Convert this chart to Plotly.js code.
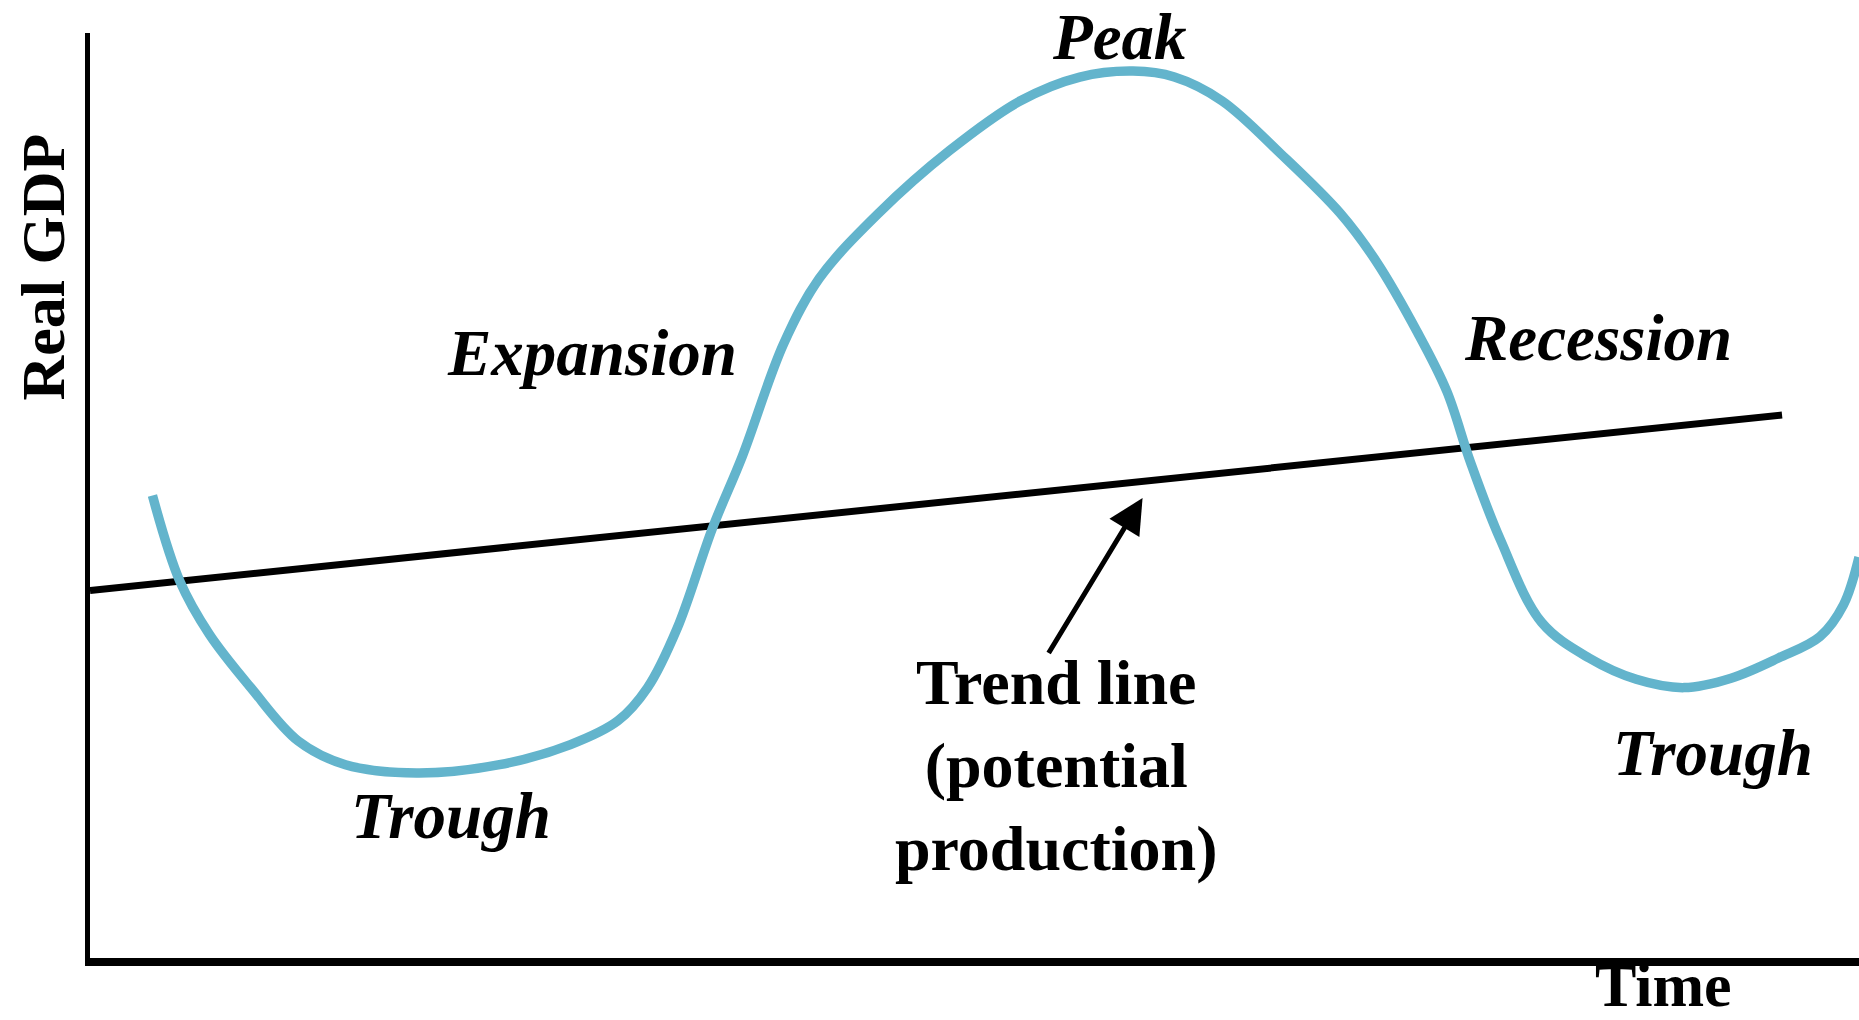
<!DOCTYPE html>
<html>
<head>
<meta charset="utf-8">
<script src="https://cdn.plot.ly/plotly-3.0.1.min.js"></script>
<style>html,body{margin:0;padding:0;background:#fff;}#chart{width:1859px;height:1020px;}</style>
</head>
<body>
<div id="chart"></div>
<script>
// Business cycle curve (time index 0-100, real GDP index 0-100)
const cycleTime = [3.53, 5.07, 6.75, 9.09, 11.77, 14.44, 18.46, 23.15, 27.16, 29.84, 31.52, 33.19, 35.20, 36.87, 39.21, 41.22, 44.57, 48.59, 52.60, 55.95, 58.96, 61.30, 63.99, 67.33, 70.68, 72.69, 75.03, 76.70, 78.04, 79.72, 82.06, 84.74, 87.41, 90.10, 92.77, 95.45, 97.79, 99.13, 100];
const cycleGDP  = [49.99, 40.77, 34.99, 29.23, 23.46, 20.90, 20.00, 20.90, 23.07, 25.64, 29.23, 35.63, 46.53, 54.22, 66.40, 73.45, 80.50, 87.29, 92.67, 95.24, 95.88, 95.24, 92.67, 86.91, 80.50, 75.37, 67.68, 61.27, 53.58, 45.25, 36.28, 32.43, 30.13, 29.23, 30.25, 32.43, 34.74, 38.20, 43.33];

// Trend line (potential production)
const trendTime = [0, 95.65];
const trendGDP  = [39.74, 58.70];

// Phase labels
const labelText = ["Expansion", "Recession", "Trough", "Trough"];
const labelTime = [28.36, 85.27, 20.40, 91.77];
const labelGDP  = [65.37, 67.04, 15.38, 22.18];
const peakText = "Peak";
const peakTime = 58.2;

// Trend label and arrow
const trendLabel = "Trend line<br>(potential<br>production)";
const trendLabelPos = [54.61, 20.77];
const arrowTail = [54.14, 32.81];
const arrowTip  = [59.50, 49.73];

const serif = "Liberation Serif, Times New Roman, serif";

const traces = [
  {x: trendTime, y: trendGDP, mode: "lines", line: {color: "#000", width: 7}, hoverinfo: "skip", cliponaxis: false},
  {x: cycleTime, y: cycleGDP, mode: "lines", line: {color: "#63b4cc", width: 9.5, shape: "spline", smoothing: 1}, hoverinfo: "skip", cliponaxis: false}
];

const annotations = labelText.map((t, i) => ({
  x: labelTime[i], y: labelGDP[i], xref: "x", yref: "y", text: "<i><b>" + t + "</b></i>",
  showarrow: false, xanchor: "center", yanchor: "middle",
  font: {family: serif, size: 65, color: "#000"}
}));

annotations.push({
  x: peakTime, xref: "x", y: 1.0355, yref: "paper", text: "<i><b>" + peakText + "</b></i>",
  showarrow: false, xanchor: "center", yanchor: "top", borderpad: 0,
  font: {family: serif, size: 65, color: "#000"}
});

annotations.push({
  x: trendLabelPos[0], y: trendLabelPos[1], xref: "x", yref: "y", text: "<b>" + trendLabel + "</b>",
  showarrow: false, xanchor: "center", yanchor: "middle", align: "center",
  font: {family: serif, size: 64, color: "#000"}
});

annotations.push({
  x: arrowTip[0], y: arrowTip[1], xref: "x", yref: "y",
  ax: arrowTail[0], ay: arrowTail[1], axref: "x", ayref: "y",
  text: "", showarrow: true, arrowhead: 2, arrowsize: 1.4, arrowwidth: 5, arrowcolor: "#000", standoff: 0
});

annotations.push({
  x: -0.0263, y: 0.747, xref: "paper", yref: "paper", text: "<b>Real GDP</b>", textangle: -90,
  showarrow: false, xanchor: "center", yanchor: "middle",
  font: {family: serif, size: 62, color: "#000"}
});
annotations.push({
  x: 0.8896, y: -0.0675, xref: "paper", yref: "paper", text: "<b>Time</b>",
  showarrow: false, xanchor: "center", yanchor: "bottom", borderpad: 0,
  font: {family: serif, size: 62, color: "#000"}
});

const layout = {
  width: 1859, height: 1020,
  margin: {l: 90, r: 0, t: 33, b: 62},
  paper_bgcolor: "#fff", plot_bgcolor: "#fff",
  showlegend: false,
  xaxis: {range: [0, 100], showgrid: false, zeroline: false, showticklabels: false, ticks: "", showline: true, linecolor: "#000", linewidth: 8},
  yaxis: {range: [0, 100], showgrid: false, zeroline: false, showticklabels: false, ticks: "", showline: true, linecolor: "#000", linewidth: 5},
  annotations: annotations
};

Plotly.newPlot("chart", traces, layout, {displayModeBar: false, staticPlot: true});
</script>
</body>
</html>
